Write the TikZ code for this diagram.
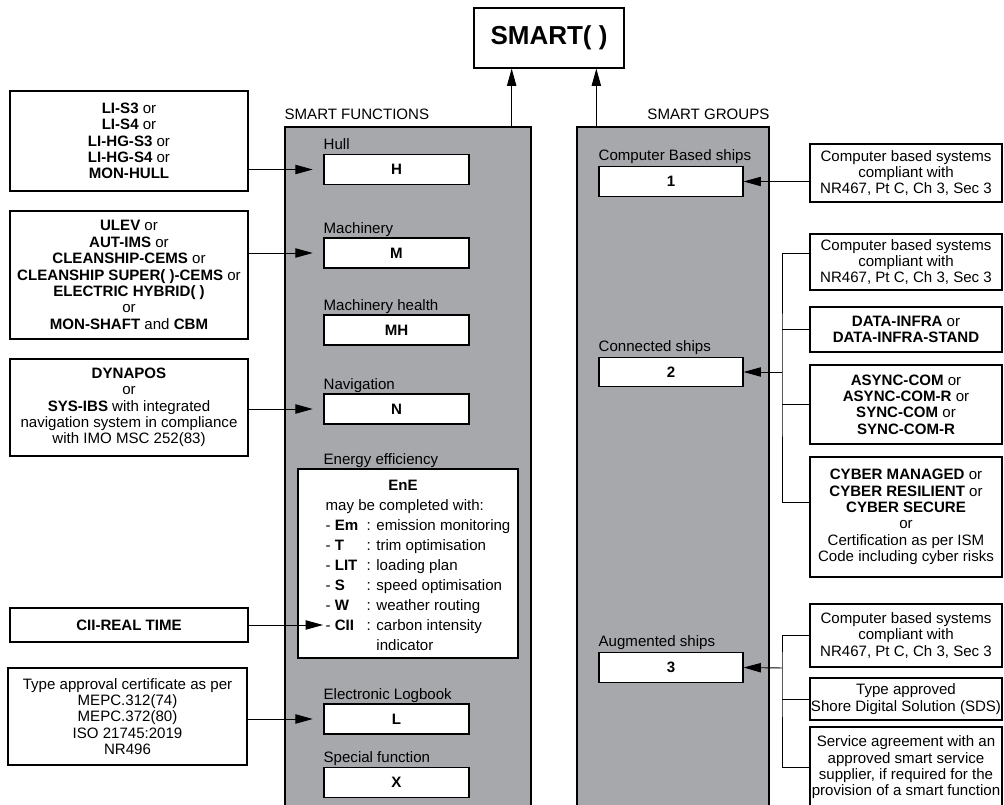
\documentclass[tikz,border=0pt]{standalone}
\usepackage{fontspec}
\setmainfont{Liberation Sans}
\usetikzlibrary{arrows.meta}
\definecolor{panelgray}{RGB}{167,168,172}
\def\fs{\fontsize{11.3}{12.3}\selectfont}

\begin{document}
\begin{tikzpicture}[x=0.75pt, y=-0.75pt,
		box/.style={draw, line width=0.9pt, fill=white, inner sep=0pt, align=center, font=\fs},
		panel/.style={draw, line width=1pt, fill=panelgray, inner sep=0pt, minimum height=516pt},
		fbox/.style={box, minimum width=108.75pt, minimum height=22.5pt},
		gbox/.style={box, minimum width=108pt, minimum height=22pt},
		lbox/.style={box, minimum width=178.5pt},
		rbox/.style={box, minimum width=144pt},
		lbl/.style={anchor=base west, inner sep=0pt, font=\fs},
		wire/.style={line width=0.7pt},
		arr/.style={wire, -{Triangle[length=13pt,width=7pt]}}]
			%%%%% START %%%%%
			\clip (0,0) rectangle (1004,805);
			
			\node[box, font=\bfseries\fontsize{19.5}{23}\selectfont, minimum width=112.5pt, minimum height=45pt] (smart) at (549,38) {SMART( )};
			
			% panels
			\node[panel, minimum width=184.5pt] (funcs) at (408,471) {};
			\node[panel, minimum width=144pt] (groups) at (673,471) {};
			\node[lbl] (ftitle) at ([yshift=5pt]funcs.north west) {SMART FUNCTIONS};
			\node[lbl, anchor=base east] (gtitle) at ([yshift=5pt]groups.north east) {SMART GROUPS};
			\draw[arr] ([xshift=-15pt]funcs.north east) -- ([xshift=-15pt]funcs.north east |- smart.south);
			\draw[arr] ([xshift=15pt]groups.north west) -- ([xshift=15pt]groups.north west |- smart.south);
			
			% smart functions
			\node[fbox] (H) at (396.5,169.5) {\textbf{H}};
			\node[fbox] (M) at (396.5,253) {\textbf{M}};
			\node[fbox] (MH) at (396.5,330) {\textbf{MH}};
			\node[fbox] (N) at (396.5,409) {\textbf{N}};
			\node[box, minimum width=165pt, minimum height=141.75pt] (E) at (408,563.5) {%
				\renewcommand{\arraystretch}{1.22}%
				\begin{tabular}{@{\hspace{15pt}}l@{\ \ }l@{}}\noalign{\vspace{5pt}}
					\multicolumn{2}{@{}c@{}}{\hspace*{-7.5pt}\textbf{EnE}}\\
					\multicolumn{2}{@{\hspace{15pt}}l@{}}{may be completed with:}\\
					- \textbf{Em} & : emission monitoring\\
					- \textbf{T} & : trim optimisation\\
					- \textbf{LIT} & : loading plan\\
					- \textbf{S} & : speed optimisation\\
					- \textbf{W} & : weather routing\\
					- \textbf{CII} & : carbon intensity\\
					& \phantom{: }indicator
				\end{tabular}};
			\node[fbox] (L) at (396.5,719) {\textbf{L}};
			\node[fbox] (X) at (396.5,782.5) {\textbf{X}};
			
			\node[lbl] (hlbl) at ([yshift=3pt]H.north west) {Hull};
			\node[lbl] (mlbl) at ([yshift=3pt]M.north west) {Machinery};
			\node[lbl] (mhlbl) at ([yshift=3pt]MH.north west) {Machinery health};
			\node[lbl] (nlbl) at ([yshift=3pt]N.north west) {Navigation};
			\node[lbl] (elbl) at ([yshift=3pt]E.north -| H.west) {Energy efficiency};
			\node[lbl] (llbl) at ([yshift=3pt]L.north west) {Electronic Logbook};
			\node[lbl] (xlbl) at ([yshift=3pt]X.north west) {Special function};
			
			% smart groups
			\node[gbox] (B1) at (671,181.5) {\textbf{1}};
			\node[gbox] (B2) at (671,372) {\textbf{2}};
			\node[gbox] (B3) at (671,667.5) {\textbf{3}};
			\node[lbl] (b1lbl) at ([yshift=4pt]B1.north west) {Computer Based ships};
			\node[lbl] (b2lbl) at ([yshift=4pt]B2.north west) {Connected ships};
			\node[lbl] (b3lbl) at ([yshift=4pt]B3.north west) {Augmented ships};
			
			% left notations
			\node[lbox, minimum height=75pt] (L1) at (129,141) {\textbf{LI-S3} or\\ \textbf{LI-S4} or\\ \textbf{LI-HG-S3} or\\ \textbf{LI-HG-S4} or\\ \textbf{MON-HULL}};
			\node[lbox, minimum height=96pt] (L2) at (129,275) {\textbf{ULEV} or\\ \textbf{AUT-IMS} or\\ \textbf{CLEANSHIP-CEMS} or\\ \textbf{CLEANSHIP SUPER( )-CEMS} or\\ \textbf{ELECTRIC HYBRID( )}\\ or\\ \textbf{MON-SHAFT} and \textbf{CBM}};
			\node[lbox, minimum height=72.75pt] (L3) at (129,407.5) {\textbf{DYNAPOS}\\ or\\ \textbf{SYS-IBS} with integrated\\ navigation system in compliance\\ with IMO MSC 252(83)};
			\node[lbox, minimum height=25.5pt] (L4) at (129,625) {\textbf{CII-REAL TIME}};
			\node[lbox, minimum width=179.25pt, minimum height=72.75pt] (L5) at (127.5,716.5) {Type approval certificate as per\\ MEPC.312(74)\\ MEPC.372(80)\\ ISO 21745:2019\\ NR496};
			
			\draw[arr] (L1.east |- H) -- ([xshift=-8pt]H.west);
			\draw[arr] (L2.east |- M) -- ([xshift=-8pt]M.west);
			\draw[arr] (L3.east |- N) -- ([xshift=-8pt]N.west);
			\coordinate (cii) at (323,625);
			\draw[arr] (L4.east) -- (cii);
			\draw[arr] (L5.east |- L) -- ([xshift=-8pt]L.west);
			
			% right conditions
			\node[rbox, minimum height=43.5pt] (R1) at (906,173) {Computer based systems\\ compliant with\\ NR467, Pt C, Ch 3, Sec 3};
			\node[rbox, minimum height=42pt] (R2a) at (906,262) {Computer based systems\\ compliant with\\ NR467, Pt C, Ch 3, Sec 3};
			\node[rbox, minimum height=33.75pt] (R2b) at (906,329.5) {\textbf{DATA-INFRA} or\\ \textbf{DATA-INFRA-STAND}};
			\node[rbox, minimum height=59.25pt] (R2c) at (906,404.5) {\textbf{ASYNC-COM} or\\ \textbf{ASYNC-COM-R} or\\ \textbf{SYNC-COM} or\\ \textbf{SYNC-COM-R}};
			\node[rbox, minimum height=90pt] (R2d) at (906,517) {\textbf{CYBER MANAGED} or\\ \textbf{CYBER RESILIENT} or\\ \textbf{CYBER SECURE}\\ or\\ Certification as per ISM\\ Code including cyber risks};
			\node[rbox, minimum height=47.25pt] (R3a) at (906,635.5) {Computer based systems\\ compliant with\\ NR467, Pt C, Ch 3, Sec 3};
			\node[rbox, minimum height=31.5pt] (R3b) at (906,699) {Type approved\\ Shore Digital Solution (SDS)};
			\node[rbox, minimum height=60.75pt] (R3c) at (906,767.5) {Service agreement with an\\ approved smart service\\ supplier, if required for the\\ provision of a smart function};
			
			\draw[arr] (R1.west |- B1) -- (B1.east);
			
			\coordinate (t2) at (782,372);
			\draw[wire] ([yshift=6.75pt]R2a.west) -| (t2) |- ([yshift=11.25pt]R2d.west);
			\draw[wire] (R2b.west) -- (R2b.west -| t2);
			\draw[wire] (R2c.west) -- (R2c.west -| t2);
			\draw[arr] (t2) -- (B2.east);
			
			\coordinate (t3) at (782,668);
			\draw[wire] (R3a.west) -| (t3) |- (R3c.west);
			\draw[wire] (R3b.west) -- (R3b.west -| t3);
			\draw[arr] (t3) -- (B3.east);
			%%%%% END %%%%%
\end{tikzpicture}
\end{document}
